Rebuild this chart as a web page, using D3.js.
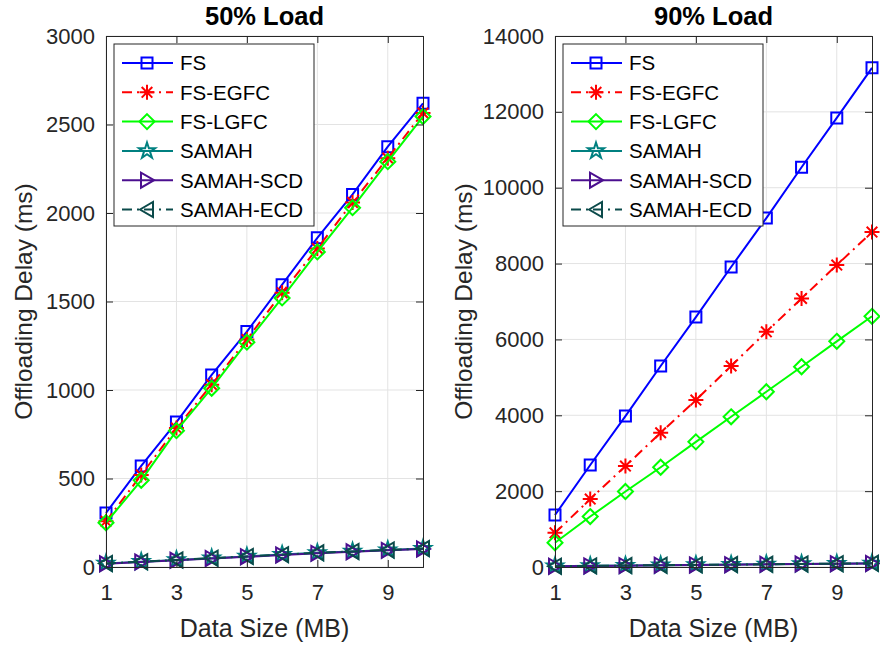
<!DOCTYPE html>
<html>
<head>
<meta charset="utf-8">
<script src="https://cdn.jsdelivr.net/npm/d3@7/dist/d3.min.js"></script>
<style>
  html, body { margin: 0; padding: 0; background: #ffffff; }
  svg { display: block; font-family: "Liberation Sans", Arial, Helvetica, sans-serif; }
</style>
</head>
<body>
<svg id="chart" width="880" height="646"></svg>
<script>
// Data size on the x axis (MB)
const dataSize = [1, 2, 3, 4, 5, 6, 7, 8, 9, 10];
const xTicks = [1, 3, 5, 7, 9];

const seriesNames = ["FS", "FS-EGFC", "FS-LGFC", "SAMAH", "SAMAH-SCD", "SAMAH-ECD"];

// Offloading delay (ms) at 50% load
const load50FS    = [305, 571, 819, 1085, 1330, 1595, 1860, 2105, 2375, 2620];
const load50EGFC  = [258, 520, 785, 1030, 1285, 1550, 1800, 2060, 2310, 2565];
const load50LGFC  = [250, 490, 770, 1010, 1270, 1520, 1780, 2030, 2290, 2545];
const load50SAMAH = [20, 30, 40, 50, 60, 70, 80, 88, 96, 104];
const load50SCD   = [18, 28, 38, 48, 58, 68, 77, 86, 94, 102];
const load50ECD   = [20, 30, 40, 50, 60, 70, 80, 88, 96, 104];
const load50YTicks = [0, 500, 1000, 1500, 2000, 2500, 3000];

// Offloading delay (ms) at 90% load
const load90FS    = [1370, 2690, 3980, 5300, 6590, 7910, 9200, 10540, 11840, 13160];
const load90EGFC  = [900, 1790, 2660, 3540, 4400, 5300, 6200, 7080, 7960, 8830];
const load90LGFC  = [640, 1330, 1990, 2630, 3300, 3960, 4620, 5280, 5950, 6610];
const load90SAMAH = [22, 30, 38, 48, 56, 64, 72, 80, 88, 98];
const load90SCD   = [20, 28, 36, 46, 54, 62, 70, 78, 86, 95];
const load90ECD   = [22, 30, 38, 48, 56, 64, 72, 80, 88, 98];
const load90YTicks = [0, 2000, 4000, 6000, 8000, 10000, 12000, 14000];

const axisColor = "#262626";
const gridColor = "#e3e3e3";

// Line style and marker per series
const styles = [
  { color: "#0000ff", dash: null,        marker: "square" },
  { color: "#ff0000", dash: "10,5,2,5",  marker: "asterisk" },
  { color: "#00ff00", dash: null,        marker: "diamond" },
  { color: "#008080", dash: null,        marker: "pentagram" },
  { color: "#4b0f8f", dash: null,        marker: "triRight" },
  { color: "#0b4a4a", dash: "10,5,2,5",  marker: "triLeft" }
];

function markerPath(kind) {
  switch (kind) {
    case "square":   return "M-5.5,-5.5H5.5V5.5H-5.5Z";
    case "diamond":  return "M0,-7.5L7.5,0L0,7.5L-7.5,0Z";
    case "asterisk": return "M0,-7.5V7.5M-7.5,0H7.5M-5.3,-5.3L5.3,5.3M-5.3,5.3L5.3,-5.3";
    case "pentagram": return d3.symbol(d3.symbolStar, 80)();
    case "triRight": return "M7,0L-6,-7.5L-6,7.5Z";
    case "triLeft":  return "M-7,0L6,-7.5L6,7.5Z";
  }
}

const svg = d3.select("#chart");
svg.append("rect").attr("width", 880).attr("height", 646).attr("fill", "#ffffff");

function drawPanel(cfg) {
  const x = d3.scaleLinear().domain([1, 10]).range([cfg.left, cfg.right]);
  const y = d3.scaleLinear().domain([0, cfg.yMax]).range([cfg.bottom, cfg.top]);
  const g = svg.append("g");

  // grid
  g.selectAll(".vgrid").data(xTicks).join("line")
    .attr("x1", d => x(d)).attr("x2", d => x(d))
    .attr("y1", cfg.top).attr("y2", cfg.bottom)
    .attr("stroke", gridColor).attr("stroke-width", 1);
  g.selectAll(".hgrid").data(cfg.yTicks).join("line")
    .attr("x1", cfg.left).attr("x2", cfg.right)
    .attr("y1", d => y(d)).attr("y2", d => y(d))
    .attr("stroke", gridColor).attr("stroke-width", 1);

  // series
  const series = cfg.series;
  series.forEach((vals, i) => {
    const st = styles[i];
    const pts = dataSize.map((d, k) => [d, vals[k]]);
    g.append("path")
      .attr("d", d3.line().x(d => x(d[0])).y(d => y(d[1]))(pts))
      .attr("fill", "none")
      .attr("stroke", st.color)
      .attr("stroke-width", 2)
      .attr("stroke-dasharray", st.dash);
    g.selectAll(null).data(pts).join("path")
      .attr("transform", d => `translate(${x(d[0])},${y(d[1])})`)
      .attr("d", markerPath(st.marker))
      .attr("fill", "none")
      .attr("stroke", st.color)
      .attr("stroke-width", 2);
  });

  // axes box with inward ticks on all sides
  const axL = d3.axisLeft(y).tickValues(cfg.yTicks).tickSize(-7).tickPadding(11).tickFormat(d3.format("d"));
  const axR = d3.axisRight(y).tickValues(cfg.yTicks).tickSize(-7).tickFormat("");
  const axB = d3.axisBottom(x).tickValues(xTicks).tickSize(-7).tickPadding(17).tickFormat(d3.format("d"));
  const axT = d3.axisTop(x).tickValues(xTicks).tickSize(-7).tickFormat("");

  const styleAxis = sel => {
    sel.select(".domain").attr("stroke", axisColor).attr("stroke-width", 1);
    sel.selectAll(".tick line").attr("stroke", axisColor).attr("stroke-width", 1);
    sel.selectAll(".tick text").attr("fill", axisColor).style("font-size", "22px")
      .style("font-family", "'Liberation Sans', Arial, sans-serif");
  };
  g.append("g").attr("transform", `translate(${cfg.left},0)`).call(axL).call(styleAxis);
  g.append("g").attr("transform", `translate(${cfg.right},0)`).call(axR).call(styleAxis);
  g.append("g").attr("transform", `translate(0,${cfg.bottom})`).call(axB).call(styleAxis);
  g.append("g").attr("transform", `translate(0,${cfg.top})`).call(axT).call(styleAxis);

  // title
  const cx = (cfg.left + cfg.right) / 2;
  g.append("text").attr("x", cx).attr("y", 25).attr("text-anchor", "middle")
    .attr("font-size", 25.5).attr("font-weight", "bold").attr("fill", "#000")
    .text(cfg.title);

  // axis labels
  g.append("text").attr("x", cx).attr("y", 637).attr("text-anchor", "middle")
    .attr("font-size", 25).attr("fill", axisColor).text("Data Size (MB)");
  g.append("text")
    .attr("transform", `translate(${cfg.yLabelX},${(cfg.top + cfg.bottom) / 2}) rotate(-90)`)
    .attr("text-anchor", "middle").attr("font-size", 24.5).attr("fill", axisColor)
    .text("Offloading Delay (ms)");

  // legend
  const lx = cfg.left + 8, ly = cfg.top + 8, lw = 200, lh = 182, rowH = 29.3;
  const lg = g.append("g").attr("transform", `translate(${lx},${ly})`);
  lg.append("rect").attr("width", lw).attr("height", lh)
    .attr("fill", "#ffffff").attr("stroke", axisColor).attr("stroke-width", 1);
  seriesNames.forEach((name, i) => {
    const st = styles[i];
    const ry = 19 + i * rowH;
    lg.append("line").attr("x1", 8).attr("x2", 59).attr("y1", ry).attr("y2", ry)
      .attr("stroke", st.color).attr("stroke-width", 2).attr("stroke-dasharray", st.dash);
    lg.append("path").attr("transform", `translate(33,${ry})`)
      .attr("d", markerPath(st.marker)).attr("fill", "none")
      .attr("stroke", st.color).attr("stroke-width", 2);
    lg.append("text").attr("x", 66).attr("y", ry).attr("dy", "0.36em")
      .attr("font-size", 20.5).attr("fill", "#000").text(name);
  });
}

drawPanel({
  title: "50% Load", left: 106, right: 423, top: 36, bottom: 567,
  yMax: 3000, yTicks: load50YTicks, yLabelX: 32,
  series: [load50FS, load50EGFC, load50LGFC, load50SAMAH, load50SCD, load50ECD]
});
drawPanel({
  title: "90% Load", left: 555, right: 872, top: 36, bottom: 567,
  yMax: 14000, yTicks: load90YTicks, yLabelX: 472,
  series: [load90FS, load90EGFC, load90LGFC, load90SAMAH, load90SCD, load90ECD]
});
</script>
</body>
</html>
